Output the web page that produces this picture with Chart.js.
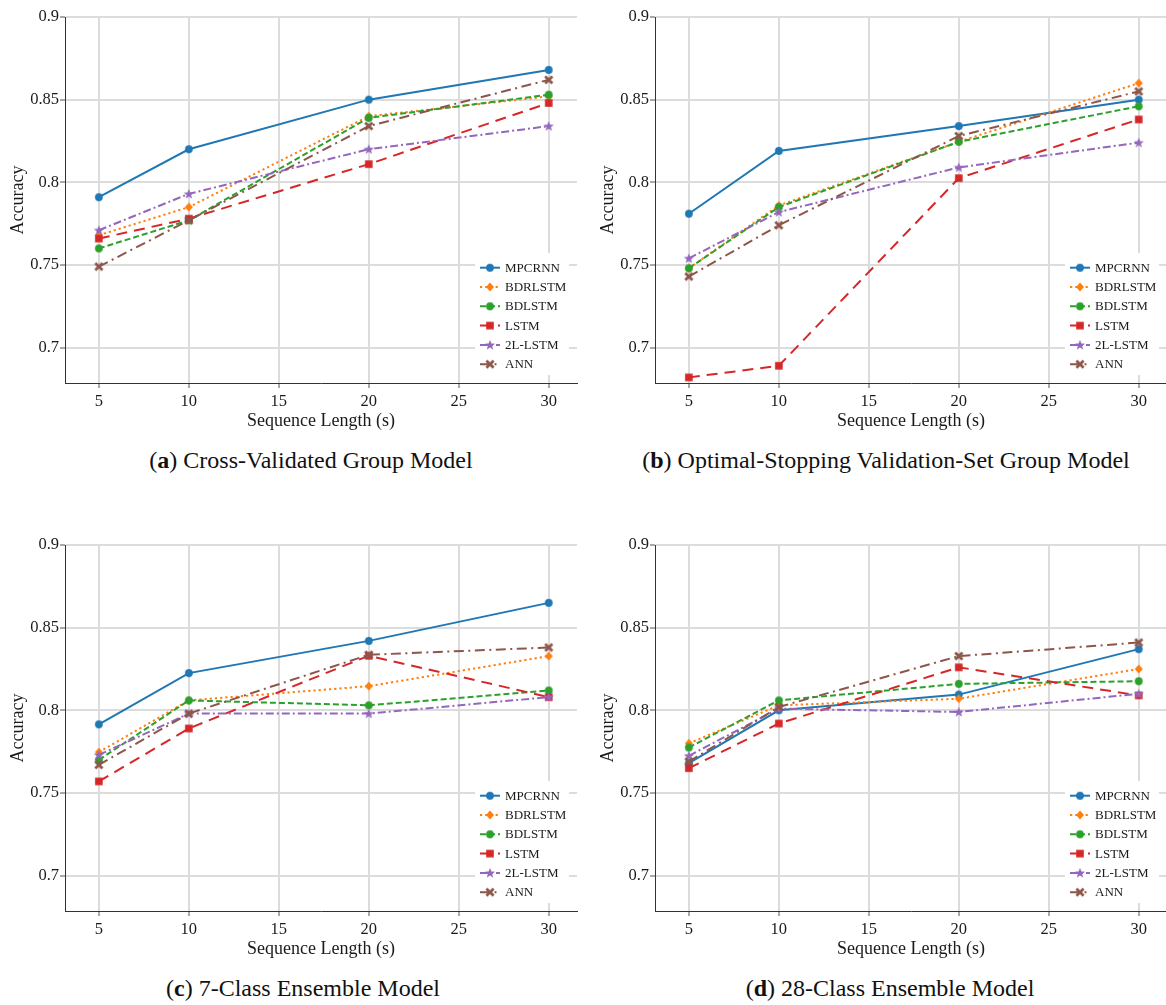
<!DOCTYPE html>
<html>
<head>
<meta charset="utf-8">
<script src="https://cdn.jsdelivr.net/npm/chart.js@4.4.0/dist/chart.umd.min.js"></script>
<style>
html,body{margin:0;padding:0;background:#fff;overflow:hidden;}
body{width:1166px;height:1005px;position:relative;}
.panel{position:absolute;width:583px;height:440px;}
.panel canvas{display:block;}
.cap{position:absolute;font-family:"Liberation Serif",serif;font-size:24px;line-height:24px;white-space:nowrap;transform:translateX(-50%);color:#111;}
</style>
</head>
<body>
<div class="panel" style="left:0;top:0"><canvas id="chartA" width="583" height="440"></canvas></div>
<div class="panel" style="left:590px;top:0"><canvas id="chartB" width="583" height="440"></canvas></div>
<div class="panel" style="left:0;top:528px"><canvas id="chartC" width="583" height="440"></canvas></div>
<div class="panel" style="left:590px;top:528px"><canvas id="chartD" width="583" height="440"></canvas></div>
<div class="cap" style="left:311px;top:448px">(<b>a</b>) Cross-Validated Group Model</div>
<div class="cap" style="left:886px;top:448px">(<b>b</b>) Optimal-Stopping Validation-Set Group Model</div>
<div class="cap" style="left:303px;top:976px">(<b>c</b>) 7-Class Ensemble Model</div>
<div class="cap" style="left:890px;top:976px">(<b>d</b>) 28-Class Ensemble Model</div>
<script>
// ---------------- data ----------------
const seqLengths = [5, 10, 20, 30];
const seriesNames = ['MPCRNN', 'BDRLSTM', 'BDLSTM', 'LSTM', '2L-LSTM', 'ANN'];
const xTicks = [5, 10, 15, 20, 25, 30];
const xTickLabels = ['5', '10', '15', '20', '25', '30'];
const yTicks = [0.7, 0.75, 0.8, 0.85, 0.9];
const yTickLabels = ['0.7', '0.75', '0.8', '0.85', '0.9'];

// (a) Cross-Validated Group Model
const aMPCRNN  = [0.791, 0.820, 0.850, 0.868];
const aBDRLSTM = [0.768, 0.785, 0.840, 0.852];
const aBDLSTM  = [0.760, 0.777, 0.839, 0.853];
const aLSTM    = [0.766, 0.778, 0.811, 0.848];
const a2LLSTM  = [0.771, 0.793, 0.820, 0.834];
const aANN     = [0.749, 0.777, 0.834, 0.862];

// (b) Optimal-Stopping Validation-Set Group Model
const bMPCRNN  = [0.781, 0.819, 0.834, 0.850];
const bBDRLSTM = [0.748, 0.786, 0.8245, 0.860];
const bBDLSTM  = [0.748, 0.785, 0.8245, 0.846];
const bLSTM    = [0.682, 0.689, 0.8025, 0.838];
const b2LLSTM  = [0.754, 0.782, 0.809, 0.824];
const bANN     = [0.743, 0.774, 0.828, 0.855];

// (c) 7-Class Ensemble Model
const cMPCRNN  = [0.7915, 0.8225, 0.842, 0.865];
const cBDRLSTM = [0.7747, 0.806, 0.8146, 0.8328];
const cBDLSTM  = [0.770, 0.806, 0.803, 0.812];
const cLSTM    = [0.757, 0.789, 0.833, 0.808];
const c2LLSTM  = [0.773, 0.798, 0.798, 0.808];
const cANN     = [0.767, 0.798, 0.8336, 0.838];

// (d) 28-Class Ensemble Model
const dMPCRNN  = [0.768, 0.800, 0.8095, 0.837];
const dBDRLSTM = [0.780, 0.803, 0.807, 0.825];
const dBDLSTM  = [0.7775, 0.806, 0.816, 0.8176];
const dLSTM    = [0.765, 0.792, 0.826, 0.809];
const d2LLSTM  = [0.7725, 0.801, 0.799, 0.810];
const dANN     = [0.769, 0.802, 0.8328, 0.841];

const yTitle = 'Accuracy';
const xTitle = 'Sequence Length (s)';

// ---------------- styles ----------------
const colors = ['#1f77b4', '#ff7f0e', '#2ca02c', '#d62728', '#9467bd', '#8c564b'];
const dashes = [[], [2.2, 3], [6, 3], [11, 7], [8, 3, 2, 3], [10, 4.5, 2, 4.5]];
const FONT = '"Liberation Serif", "Times New Roman", serif';

function makeMarker(kind, color) {
  const c = document.createElement('canvas');
  c.width = 14; c.height = 14;
  const g = c.getContext('2d');
  g.fillStyle = color; g.strokeStyle = color;
  const cx = 7, cy = 7;
  g.beginPath();
  if (kind === 'circle') {
    g.arc(cx, cy, 3.9, 0, Math.PI * 2); g.fill();
  } else if (kind === 'diamond') {
    g.moveTo(cx, cy - 4.6); g.lineTo(cx + 4.0, cy); g.lineTo(cx, cy + 4.6); g.lineTo(cx - 4.0, cy); g.closePath(); g.fill();
  } else if (kind === 'square') {
    g.fillRect(cx - 3.8, cy - 3.8, 7.6, 7.6);
  } else if (kind === 'star') {
    for (let k = 0; k < 10; k++) {
      const r = k % 2 === 0 ? 5.4 : 2.3;
      const a = -Math.PI / 2 + k * Math.PI / 5;
      const px = cx + r * Math.cos(a), py = cy + 0.3 + r * Math.sin(a);
      if (k === 0) g.moveTo(px, py); else g.lineTo(px, py);
    }
    g.closePath(); g.fill();
  } else if (kind === 'x') {
    g.lineWidth = 2.8; g.lineCap = 'butt';
    g.moveTo(cx - 3.6, cy - 3.6); g.lineTo(cx + 3.6, cy + 3.6);
    g.moveTo(cx + 3.6, cy - 3.6); g.lineTo(cx - 3.6, cy + 3.6);
    g.stroke();
  }
  return c;
}
const markerKinds = ['circle', 'diamond', 'circle', 'square', 'star', 'x'];
const markers = markerKinds.map((k, i) => makeMarker(k, colors[i]));

const insideLegend = {
  id: 'insideLegend',
  afterDraw(chart) {
    const ctx = chart.ctx, ca = chart.chartArea;
    const w = 94, h = 122;
    const left = ca.right - 8 - w, top = ca.bottom - 8 - h;
    ctx.save();
    ctx.fillStyle = '#ffffff';
    ctx.fillRect(left, top, w, h);
    ctx.font = '13px ' + FONT;
    ctx.textBaseline = 'middle';
    ctx.textAlign = 'left';
    chart.data.datasets.forEach((ds, i) => {
      const y = top + 14.7 + 19.3 * i;
      ctx.strokeStyle = ds.borderColor;
      ctx.lineWidth = ds.borderWidth;
      ctx.setLineDash(ds.borderDash || []);
      ctx.beginPath(); ctx.moveTo(left + 5, y); ctx.lineTo(left + 25, y); ctx.stroke();
      ctx.setLineDash([]);
      const m = ds.pointStyle;
      ctx.drawImage(m, left + 15 - m.width / 2, y - m.height / 2);
      ctx.fillStyle = '#1a1a1a';
      ctx.fillText(ds.label, left + 30, y + 0.5);
    });
    ctx.restore();
  }
};

function buildChart(id, seriesList) {
  const datasets = seriesList.map((vals, i) => ({
    label: seriesNames[i],
    data: seqLengths.map((x, j) => ({ x: x, y: vals[j] })),
    borderColor: colors[i],
    backgroundColor: colors[i],
    borderWidth: 2,
    borderDash: dashes[i],
    pointStyle: markers[i],
    pointRadius: 4,
    tension: 0,
    fill: false,
    order: seriesList.length - i
  }));
  return new Chart(document.getElementById(id), {
    type: 'line',
    data: { datasets },
    plugins: [insideLegend],
    options: {
      responsive: false,
      animation: false,
      devicePixelRatio: 1,
      layout: { padding: { top: 17, right: 3, left: 0, bottom: 0 } },
      plugins: { legend: { display: false }, tooltip: { enabled: false } },
      scales: {
        x: {
          type: 'linear',
          min: 3.12, max: 31.57,
          afterFit: s => { s.height = 57; },
          afterBuildTicks: s => { s.ticks = xTicks.map(v => ({ value: v })); },
          ticks: {
            callback: v => xTickLabels[xTicks.indexOf(v)],
            font: { family: FONT, size: 16.5 }, color: '#1a1a1a', padding: 4, maxRotation: 0
          },
          grid: { color: '#dcdcdc', lineWidth: 2, tickColor: '#555', tickLength: 5, tickWidth: 1 },
          border: { display: true, color: '#333', width: 1 },
          title: { display: true, text: xTitle, font: { family: FONT, size: 18 }, color: '#1a1a1a', padding: { top: 0, bottom: 8 } }
        },
        y: {
          type: 'linear',
          min: 0.6786, max: 0.9,
          afterFit: s => { s.width = 65; },
          afterBuildTicks: s => { s.ticks = yTicks.map(v => ({ value: v })); },
          ticks: {
            callback: v => yTickLabels[yTicks.indexOf(v)],
            font: { family: FONT, size: 16.5 }, color: '#1a1a1a', padding: 1
          },
          grid: { color: '#dcdcdc', lineWidth: 2, tickColor: '#555', tickLength: 5, tickWidth: 1 },
          border: { display: true, color: '#333', width: 1 },
          title: { display: true, text: yTitle, font: { family: FONT, size: 18 }, color: '#1a1a1a', padding: { top: 7, bottom: 0 } }
        }
      }
    }
  });
}

buildChart('chartA', [aMPCRNN, aBDRLSTM, aBDLSTM, aLSTM, a2LLSTM, aANN]);
buildChart('chartB', [bMPCRNN, bBDRLSTM, bBDLSTM, bLSTM, b2LLSTM, bANN]);
buildChart('chartC', [cMPCRNN, cBDRLSTM, cBDLSTM, cLSTM, c2LLSTM, cANN]);
buildChart('chartD', [dMPCRNN, dBDRLSTM, dBDLSTM, dLSTM, d2LLSTM, dANN]);
</script>
</body>
</html>
